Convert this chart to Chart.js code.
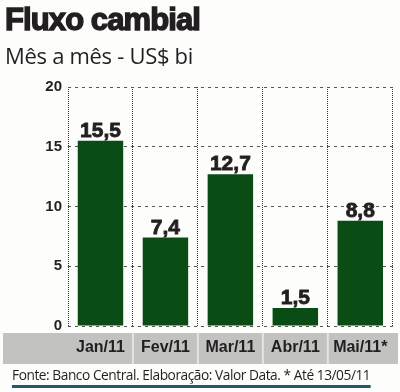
<!DOCTYPE html>
<html><head><meta charset="utf-8">
<script src="https://cdn.jsdelivr.net/npm/chart.js@4"></script>
<style>
html,body{margin:0;padding:0;background:#fff;}
#wrap{position:relative;width:400px;height:392px;overflow:hidden;background:#fdfdfb;}
canvas{position:absolute;left:0;top:0;}
.t{position:absolute;white-space:nowrap;color:#231f20;}
#title{left:5px;top:2px;font:bold 31px "Liberation Sans",Arial,sans-serif;letter-spacing:-0.9px;-webkit-text-stroke:1.4px #231f20;}
#sub{left:5px;top:40px;font:22px "Open Sans",sans-serif;letter-spacing:-0.3px;}
#foot{left:12px;top:364px;font:15px "Open Sans",sans-serif;letter-spacing:-0.5px;padding-bottom:1px;border-bottom:3px solid #1f5b70;transform:scaleX(0.915);transform-origin:0 0;}
</style></head>
<body><div id="wrap">
<canvas id="c" width="400" height="392"></canvas>
<div class="t" id="title">Fluxo cambial</div>
<div class="t" id="sub">Mês a mês - US$ bi</div>
<div class="t" id="foot">Fonte: Banco Central. Elaboração: Valor Data. * Até 13/05/11</div>
</div>
<script>
const categories = ["Jan/11","Fev/11","Mar/11","Abr/11","Mai/11*"];
const values = [15.5, 7.4, 12.7, 1.5, 8.8];
const valueLabels = ["15,5","7,4","12,7","1,5","8,8"];
const yTicks = [0,5,10,15,20];

const bandPlugin = {
  id:'band',
  beforeDraw(chart){
    const ctx = chart.ctx, x = chart.scales.x;
    ctx.save();
    ctx.fillStyle = '#c2c2c0';
    ctx.fillRect(3, 333, 395, 31);
    ctx.fillStyle = '#e4e4e2';
    for (let i = 0; i < categories.length - 1; i++) {
      const b = (x.getPixelForValue(i) + x.getPixelForValue(i+1)) / 2;
      ctx.fillRect(b - 1, 333, 2, 31);
    }
    ctx.restore();
  }
};
const valuePlugin = {
  id:'vals',
  afterDatasetsDraw(chart){
    const ctx = chart.ctx;
    const meta = chart.getDatasetMeta(0);
    ctx.save();
    ctx.font = 'bold 21px "Liberation Sans", Arial, sans-serif';
    ctx.fillStyle = '#231f20';
    ctx.strokeStyle = '#231f20';
    ctx.lineWidth = 0.8;
    ctx.textAlign = 'center';
    ctx.textBaseline = 'alphabetic';
    meta.data.forEach((bar, i) => {
      ctx.fillText(valueLabels[i], bar.x, bar.y - 4);
      ctx.strokeText(valueLabels[i], bar.x, bar.y - 4);
    });
    ctx.restore();
  }
};

new Chart(document.getElementById('c'), {
  type:'bar',
  data:{labels:categories, datasets:[{data:values, backgroundColor:'#0a4d14', borderWidth:0, barPercentage:0.7, categoryPercentage:1}]},
  options:{
    responsive:false, animation:false,
    layout:{padding:{top:87,left:0,right:6,bottom:0}},
    plugins:{legend:{display:false}, tooltip:{enabled:false}},
    scales:{
      x:{
        afterFit(s){ s.height = 66; },
        grid:{offset:true, color:'#333', lineWidth:1, drawTicks:false, borderDash:[1,1]},
        border:{display:false, dash:[1,1]},
        ticks:{padding:12, color:'#231f20', font:{family:'"Liberation Sans", Arial, sans-serif', size:16, weight:'bold'}}
      },
      y:{
        min:0, max:20,
        afterFit(s){ s.width = 68; },
        afterBuildTicks(s){ s.ticks = yTicks.map(v => ({value:v})); },
        grid:{color:'#555', lineWidth:1, drawTicks:false, borderDash:[3,4]},
        border:{display:false, dash:[3,4]},
        ticks:{padding:6, color:'#231f20', font:{family:'"Liberation Sans", Arial, sans-serif', size:15, weight:'bold'}}
      }
    }
  },
  plugins:[bandPlugin, valuePlugin]
});
</script>
</body></html>
